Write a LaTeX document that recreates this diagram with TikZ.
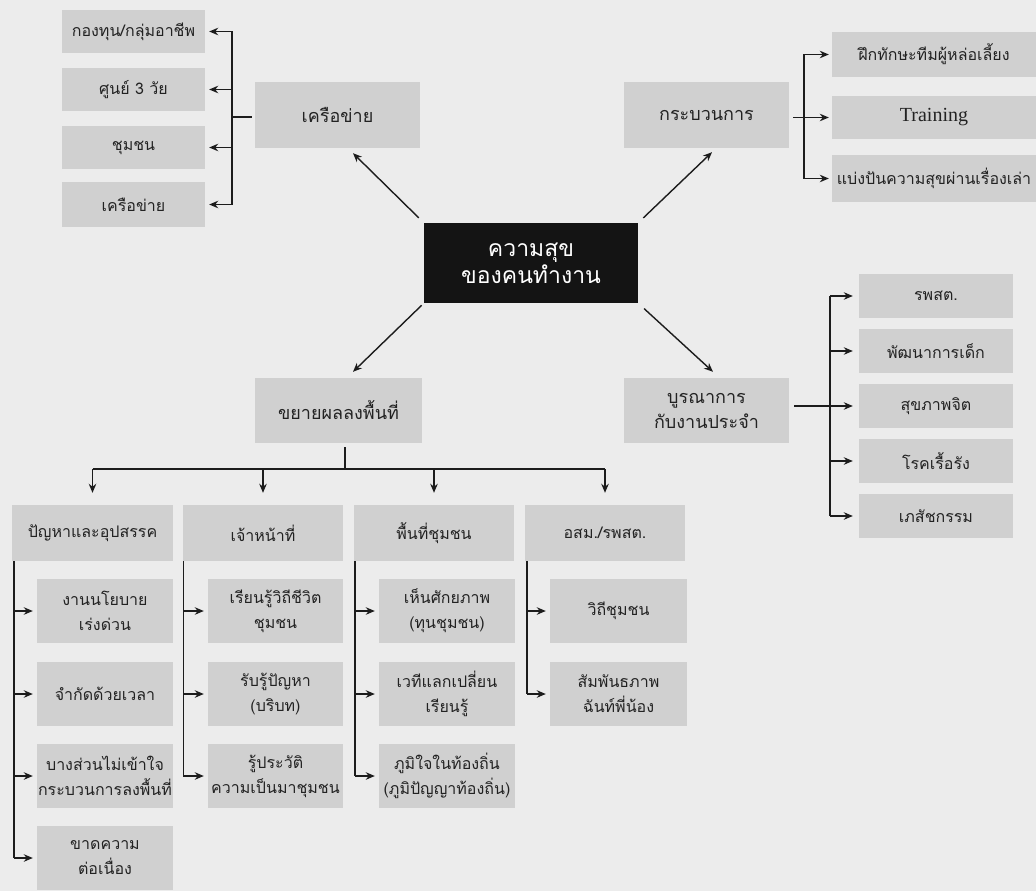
\documentclass[tikz,border=0pt]{standalone}
\usepackage{fontspec}
\newfontfamily\thai[Script=Thai]{Loma}
\newfontfamily\latinserif{Liberation Serif}
\usetikzlibrary{arrows.meta,calc}
\definecolor{paper}{RGB}{236,236,236}
\definecolor{boxfill}{RGB}{208,208,208}
\definecolor{core}{RGB}{20,20,20}
\definecolor{ink}{RGB}{28,28,28}
\definecolor{txt}{RGB}{34,34,34}
\begin{document}
\begin{tikzpicture}[x=1pt,y=-1pt,
  sz/.style 2 args={minimum width=#1pt, minimum height=#2pt},
  box/.style={fill=boxfill, inner sep=0pt, align=center, text=txt,
              font=\thai\fontsize{16}{25}\selectfont},
  mainbox/.style={box, font=\thai\fontsize{18}{25}\selectfont},
  link/.style={draw=ink, line width=1.4pt},
  arr/.style={link, -{Stealth[length=9pt,width=7.5pt]}},
]
\fill[paper] (0,0) rectangle (1036,891);
\useasboundingbox (0,0) rectangle (1036,891);

% centre
\node[fill=core, text=white, align=center, inner sep=0pt, sz={214}{80},
      font=\thai\fontsize{23}{27}\selectfont] (ctr) at (531,263) {ความสุข\\ของคนทำงาน};

% four main branches
\node[mainbox, sz={165}{66}] (net)   at (337.5,115)   {เครือข่าย};
\node[mainbox, sz={165}{66}] (proc)  at (706.5,115)   {กระบวนการ};
\node[mainbox, sz={167}{65}] (exp)   at (338.5,410.5) {ขยายผลลงพื้นที่};
\node[mainbox, sz={165}{65}] (integ) at (706.5,410.5) {บูรณาการ\\กับงานประจำ};

\draw[arr, shorten <=7pt] (ctr.north west) -- ([xshift=15.5pt,yshift=-5pt]net.south);
\draw[arr, shorten <=7pt] (ctr.north east) -- ([xshift=5.5pt,yshift=-4pt]proc.south);
\draw[arr, shorten <=3pt] (ctr.south west) -- ([xshift=14.5pt,yshift=6pt]exp.north);
\draw[arr, shorten <=8pt] (ctr.south east) -- ([xshift=6.5pt,yshift=6pt]integ.north);

% network
\node[box, sz={143}{43}] (n1) at (133.5,31.5)  {กองทุน/กลุ่มอาชีพ};
\node[box, sz={143}{43}] (n2) at (133.5,89.5)  {ศูนย์ 3 วัย};
\node[box, sz={143}{43}] (n3) at (133.5,147.5) {ชุมชน};
\node[box, sz={143}{45}] (n4) at (133.5,204.5) {เครือข่าย};
\coordinate (jn) at (232,117);
\draw[link, shorten <=3pt] (net.west |- jn) -- (jn);
\draw[link] (jn |- n1.east) -- (jn |- n4.east);
\foreach \k in {n1,n2,n3,n4}
  \draw[arr, shorten >=4pt] (jn |- \k.east) -- (\k.east);

% process
\node[box, sz={204}{45}] (p1) at (934,54.5)  {ฝึกทักษะทีมผู้หล่อเลี้ยง};
\node[box, sz={204}{43}, font=\latinserif\fontsize{20}{24}\selectfont]
      (p2) at (934,117.5) {Training};
\node[box, sz={204}{47}] (p3) at (934,178.5) {แบ่งปันความสุขผ่านเรื่องเล่า};
\coordinate (jp) at (804,117);
\draw[arr, shorten <=4pt, shorten >=3pt] (proc.east |- p2.west) -- (p2.west);
\draw[link] (jp |- p1.west) -- (jp |- p3.west);
\foreach \k in {p1,p3}
  \draw[arr, shorten >=3pt] (jp |- \k.west) -- (\k.west);

% integration with routine work
\node[box, sz={154}{44}] (i1) at (936,296) {รพสต.};
\node[box, sz={154}{44}] (i2) at (936,351) {พัฒนาการเด็ก};
\node[box, sz={154}{44}] (i3) at (936,406) {สุขภาพจิต};
\node[box, sz={154}{44}] (i4) at (936,461) {โรคเรื้อรัง};
\node[box, sz={154}{44}] (i5) at (936,516) {เภสัชกรรม};
\coordinate (ji) at (830,406);
\draw[link] (ji |- i1.west) -- (ji |- i5.west);
\foreach \k in {i1,i2,i4,i5}
  \draw[arr, shorten >=6pt] (ji |- \k.west) -- (\k.west);
\draw[arr, shorten <=5pt, shorten >=6pt] (integ.east |- i3.west) -- (i3.west);

% field expansion: column headers
\node[box, sz={161}{56}] (h1) at (92.5,533) {ปัญหาและอุปสรรค};
\node[box, sz={160}{56}] (h2) at (263,533)  {เจ้าหน้าที่};
\node[box, sz={160}{56}] (h3) at (434,533)  {พื้นที่ชุมชน};
\node[box, sz={160}{56}] (h4) at (605,533)  {อสม./รพสต.};
\coordinate (bus) at (345,469);
\draw[link, shorten <=4pt] (bus |- exp.south) -- (bus);
\draw[link] (bus -| h1.north) -- (bus -| h4.north);
\foreach \k in {h1,h2,h3,h4}
  \draw[arr, shorten >=12pt] (bus -| \k.north) -- (\k.north);

% column 1
\node[box, sz={136}{64}] (s11) at (105,611) {งานนโยบาย\\เร่งด่วน};
\node[box, sz={136}{64}] (s12) at (105,694) {จำกัดด้วยเวลา};
\node[box, sz={136}{64}] (s13) at (105,776) {บางส่วนไม่เข้าใจ\\กระบวนการลงพื้นที่};
\node[box, sz={136}{64}] (s14) at (105,858) {ขาดความ\\ต่อเนื่อง};
% column 2
\node[box, sz={135}{64}] (s21) at (275.5,611) {เรียนรู้วิถีชีวิต\\ชุมชน};
\node[box, sz={135}{64}] (s22) at (275.5,694) {รับรู้ปัญหา\\(บริบท)};
\node[box, sz={135}{64}] (s23) at (275.5,776) {รู้ประวัติ\\ความเป็นมาชุมชน};
% column 3
\node[box, sz={136}{64}] (s31) at (447,611) {เห็นศักยภาพ\\(ทุนชุมชน)};
\node[box, sz={136}{64}] (s32) at (447,694) {เวทีแลกเปลี่ยน\\เรียนรู้};
\node[box, sz={136}{64}] (s33) at (447,776) {ภูมิใจในท้องถิ่น\\(ภูมิปัญญาท้องถิ่น)};
% column 4
\node[box, sz={137}{64}] (s41) at (618.5,611) {วิถีชุมชน};
\node[box, sz={137}{64}] (s42) at (618.5,694) {สัมพันธภาพ\\ฉันท์พี่น้อง};

\coordinate (v1) at ([xshift=2pt]h1.south west);
\coordinate (v2) at ([xshift=0.5pt]h2.south west);
\coordinate (v3) at ([xshift=1pt]h3.south west);
\coordinate (v4) at ([xshift=2pt]h4.south west);
\draw[link] (v1) -- (v1 |- s14.west);
\draw[link] (v2) -- (v2 |- s23.west);
\draw[link] (v3) -- (v3 |- s33.west);
\draw[link] (v4) -- (v4 |- s42.west);
\foreach \v/\k in {v1/s11,v1/s12,v1/s13,v1/s14,v2/s21,v2/s22,v2/s23,
                   v3/s31,v3/s32,v3/s33,v4/s41,v4/s42}
  \draw[arr, shorten >=4pt] (\v |- \k.west) -- (\k.west);
\end{tikzpicture}
\end{document}
